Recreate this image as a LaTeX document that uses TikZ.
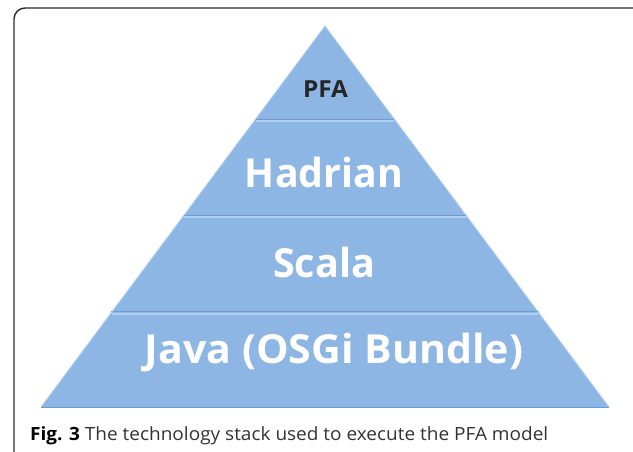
\documentclass[tikz,border=0pt]{standalone}
\usepackage{fontspec}
\usepackage{graphicx}
\setmainfont{Open Sans}
\usetikzlibrary{calc}
\definecolor{bandblue}{HTML}{8DB6E5}
\definecolor{bandlight}{HTML}{B4D0F0}
\definecolor{banddark}{HTML}{6E9CD2}
\definecolor{framegray}{HTML}{2A2A2A}
\definecolor{captgray}{HTML}{333333}
\tikzset{
  band/.style={fill=bandblue, draw=none},
  hilite/.style={draw=bandlight, line width=1.6pt},
  shade/.style={draw=banddark, line width=0.8pt},
  layertext/.style={font=\bfseries\fontsize{40}{40}\selectfont, text=white, anchor=base, inner sep=0pt},
  toptext/.style={font=\bfseries\fontsize{23.5}{23.5}\selectfont, text=black!85, anchor=base, inner sep=0pt},
  captext/.style={font=\fontsize{18.2}{18.2}\selectfont, text=captgray, anchor=base west, inner sep=0pt}
}
\begin{document}
\begin{tikzpicture}[x=1pt,y=-1pt]
\useasboundingbox (0,0) rectangle (633,451);
\fill[white] (0,0) rectangle (633,451);
% frame
\draw[framegray, line width=1.4pt, rounded corners=11pt] (14,8) rectangle (650,470);
% triangle corners
\coordinate (apex) at (325,26);
\coordinate (bl) at (41,407);
\coordinate (br) at (609,407);
\coordinate (l1) at ($(apex)!0.247!(bl)$);
\coordinate (r1) at ($(apex)!0.247!(br)$);
\coordinate (l2) at ($(apex)!0.499!(bl)$);
\coordinate (r2) at ($(apex)!0.499!(br)$);
\coordinate (l3) at ($(apex)!0.753!(bl)$);
\coordinate (r3) at ($(apex)!0.753!(br)$);
% bands
\fill[band] (apex) -- (r1) -- (l1) -- cycle;
\fill[band] (l1) -- (r1) -- (r2) -- (l2) -- cycle;
\fill[band] (l2) -- (r2) -- (r3) -- (l3) -- cycle;
\fill[band] (l3) -- (r3) -- (br) -- (bl) -- cycle;
% bevel lines
\draw[shade] ($(l1)+(0,-1.2)$) -- ($(r1)+(0,-1.2)$);
\draw[hilite] ($(l1)+(1,1)$) -- ($(r1)+(-1,1)$);
\draw[shade] ($(l2)+(0,-1.2)$) -- ($(r2)+(0,-1.2)$);
\draw[hilite] ($(l2)+(1,1)$) -- ($(r2)+(-1,1)$);
\draw[shade] ($(l3)+(0,-1.2)$) -- ($(r3)+(0,-1.2)$);
\draw[hilite] ($(l3)+(1,1)$) -- ($(r3)+(-1,1)$);
\draw[bandlight, line width=0.8pt] (bl) -- (apex) -- (br);
\draw[banddark, line width=0.6pt] (bl) -- (br);
% texts
\node[toptext] (pfa) at (325.5,97) {\resizebox{45pt}{\height}{PFA}};
\node[layertext] (hadrian) at (324,187) {\resizebox{158pt}{\height}{Hadrian}};
\node[layertext] (scala) at (324,277) {\resizebox{102pt}{\height}{Scala}};
\node[layertext] (java) at (334,363) {\resizebox{378pt}{\height}{Java (OSGi Bundle)}};
\node[captext] (cap) at (30,440) {\resizebox{518pt}{\height}{\textcolor{black}{\bfseries Fig. 3} The technology stack used to execute the PFA model}};
\end{tikzpicture}
\end{document}
